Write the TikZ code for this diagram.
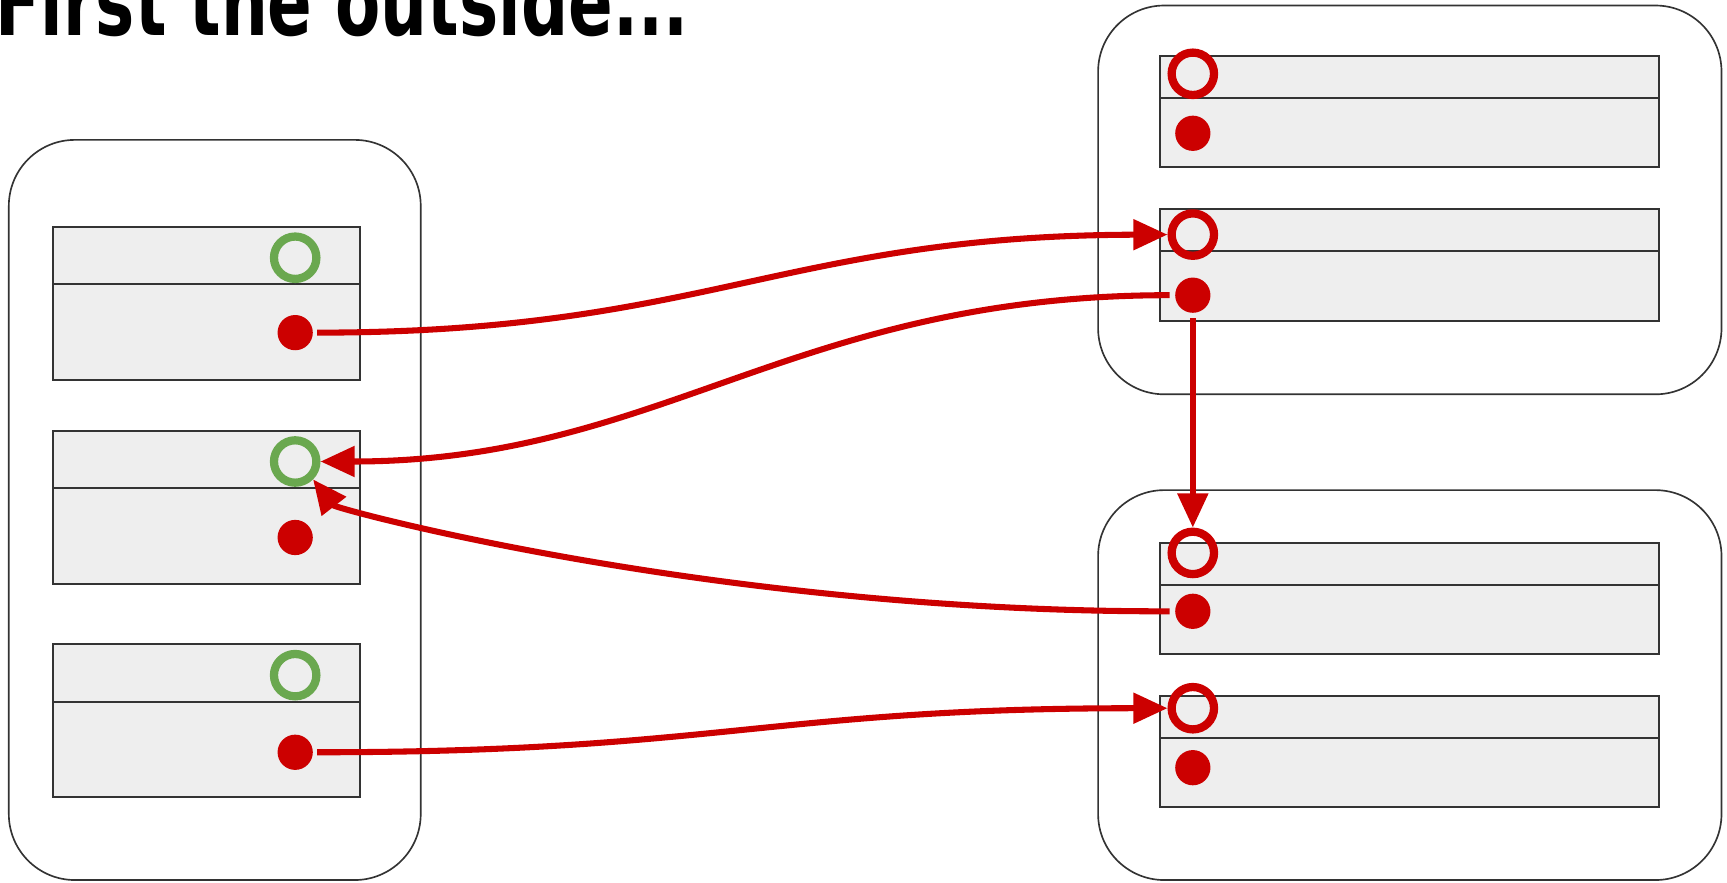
\documentclass[tikz,border=0pt]{standalone}
\usepackage{fontspec}
\setmainfont{Liberation Sans}
\newfontfamily\titlefont{DejaVu Sans}
\usetikzlibrary{arrows.meta}
\definecolor{myred}{HTML}{CC0000}
\definecolor{mygreen}{HTML}{6AA84F}
\definecolor{boxfill}{HTML}{EEEEEE}
\definecolor{edgegray}{HTML}{333333}
\begin{document}
\begin{tikzpicture}[x=1pt,y=-1pt,
  outerbox/.style={draw=edgegray, line width=1.5pt, rounded corners=60pt},
  slotbox/.style={draw=edgegray, fill=boxfill, line width=1.8pt},
  divline/.style={draw=edgegray, line width=1.8pt},
  gring/.style={circle, draw=mygreen, line width=7.5pt, minimum size=38.5pt, inner sep=0pt},
  rring/.style={circle, draw=myred, line width=7.5pt, minimum size=38.5pt, inner sep=0pt},
  rdot/.style={circle, fill=myred, draw=none, minimum size=32pt, inner sep=0pt, outer sep=0pt},
  conn/.style={draw=myred, line width=5.5pt, -{Triangle[length=31pt,width=27pt]}},
  titletext/.style={font=\titlefont\fontsize{68}{72}\selectfont\bfseries, inner sep=0pt, xscale=0.88, yscale=1.25}
]
\useasboundingbox (0,0) rectangle (1568,801);

% title
\node[titletext, anchor=base west] (title) at (-4,32) {First the outside...};

% outer containers
\draw[outerbox] (8,127) rectangle (382,799);
\draw[outerbox] (997,5) rectangle (1563,358);
\draw[outerbox] (997,445) rectangle (1563,799);

% left slots
\draw[slotbox] (48,206) rectangle (327,345);
\draw[divline] (48,258) -- (327,258);
\draw[slotbox] (48,391) rectangle (327,530);
\draw[divline] (48,443) -- (327,443);
\draw[slotbox] (48,585) rectangle (327,724);
\draw[divline] (48,637) -- (327,637);

% right slots
\draw[slotbox] (1053,51) rectangle (1506,152);
\draw[divline] (1053,89) -- (1506,89);
\draw[slotbox] (1053,190) rectangle (1506,291);
\draw[divline] (1053,228) -- (1506,228);
\draw[slotbox] (1053,493) rectangle (1506,594);
\draw[divline] (1053,531) -- (1506,531);
\draw[slotbox] (1053,632) rectangle (1506,733);
\draw[divline] (1053,670) -- (1506,670);

% left rings and dots
\node[gring] (g1) at (268,234) {};
\node[rdot]  (ld1) at (268,302) {};
\node[gring] (g2) at (268,419) {};
\node[rdot]  (ld2) at (268,488) {};
\node[gring] (g3) at (268,613) {};
\node[rdot]  (ld3) at (268,683) {};

% right rings and dots
\node[rring] (rA) at (1083,67) {};
\node[rdot]  (dA) at (1083,121) {};
\node[rring] (rB) at (1083,213) {};
\node[rdot]  (dB) at (1083,268) {};
\node[rring] (rC) at (1083,502) {};
\node[rdot]  (dC) at (1083,555) {};
\node[rring] (rD) at (1083,643) {};
\node[rdot]  (dD) at (1083,697) {};

% connectors
\draw[conn, shorten <=4pt] (ld1.east) .. controls (640,302) and (710,214) .. (rB.west);
\draw[conn, shorten <=5pt] (dB.west) .. controls (720,268) and (600,419) .. (g2.east);
\draw[conn, shorten <=5pt] (dC.west) .. controls (650,556) and (305,462) .. (g2.south east);
\draw[conn, shorten <=4pt] (ld3.east) .. controls (650,683) and (700,643) .. (rD.west);
\draw[conn, shorten <=5pt] (dB.south) -- (rC.north);
\end{tikzpicture}
\end{document}
